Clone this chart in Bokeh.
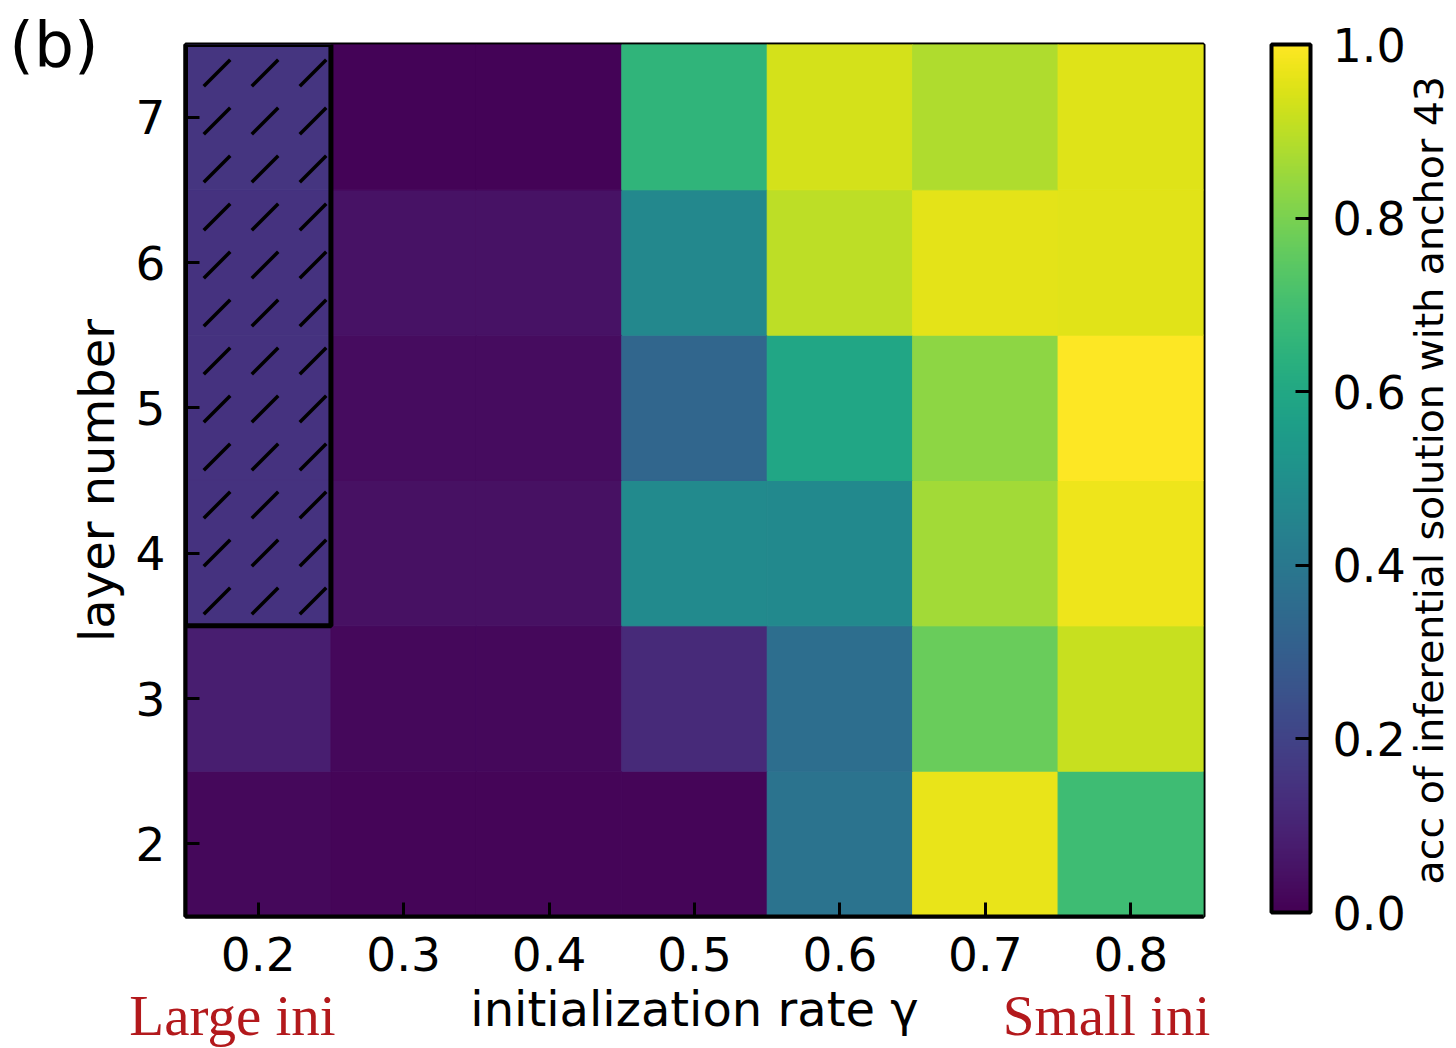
import math
from bokeh.plotting import figure
from bokeh.models import (ColumnDataSource, LinearColorMapper, ColorBar, FixedTicker,
                          PrintfTickFormatter, LinearAxis, Range1d)
from bokeh.palettes import Viridis256
from bokeh.embed import file_html
from bokeh.resources import INLINE

# ---------------- data ----------------
gamma = [0.2, 0.3, 0.4, 0.5, 0.6, 0.7, 0.8]          # initialization rate
layers = [2, 3, 4, 5, 6, 7]                           # layer number
# accuracy per layer (rows) for each gamma (cols 0.2..0.8)
acc_L2 = [0.02, 0.015, 0.015, 0.015, 0.38, 0.965, 0.69]
acc_L3 = [0.085, 0.02, 0.02, 0.12, 0.36, 0.77, 0.915]
acc_L4 = [0.145, 0.045, 0.045, 0.48, 0.475, 0.86, 0.975]
acc_L5 = [0.145, 0.035, 0.035, 0.33, 0.59, 0.83, 1.0]
acc_L6 = [0.145, 0.05, 0.05, 0.465, 0.90, 0.96, 0.955]
acc_L7 = [0.155, 0.01, 0.01, 0.655, 0.935, 0.88, 0.95]
acc_rows = [acc_L2, acc_L3, acc_L4, acc_L5, acc_L6, acc_L7]

cbar_ticks = [0.0, 0.2, 0.4, 0.6, 0.8, 1.0]
highlight_gamma = 0.2
highlight_layers = (4, 7)

x_label = "initialization rate γ"
y_label = "layer number"
cbar_label = "acc of inferential solution with anchor 43"
panel_tag = "(b)"
left_note = "Large ini"
right_note = "Small ini"

# ---------------- layout constants (pixels) ----------------
FW, FH = 1018, 872
FONT = "DejaVu Sans"
NOTE_FONT = "Liberation Serif"
NOTE_COLOR = "#b3191c"
left_note_px, right_note_px = 47, 921      # note centres, from frame left
cbar_label_px = 32                         # start of colour-bar label, from frame bottom

# ---------------- build ----------------
xs, ys, vals = [], [], []
for li, row in zip(layers, acc_rows):
    for g, v in zip(gamma, row):
        xs.append(g)
        ys.append(li)
        vals.append(v)
src = ColumnDataSource(dict(x=xs, y=ys, v=vals))

dx = round(gamma[1] - gamma[0], 6)
x_lo, x_hi = gamma[0] - dx / 2, gamma[-1] + dx / 2
y_lo, y_hi = layers[0] - 0.5, layers[-1] + 0.5

mapper = LinearColorMapper(palette=Viridis256, low=0.0, high=1.0)

p = figure(frame_width=FW, frame_height=FH,
           x_range=(x_lo, x_hi), y_range=(y_lo, y_hi),
           min_border_left=185, min_border_right=253,
           min_border_top=44, min_border_bottom=132,
           toolbar_location=None, output_backend="svg")
p.background_fill_color = "white"
p.border_fill_color = "white"
p.grid.visible = False
p.outline_line_color = "black"
p.outline_line_width = 4

p.extra_x_ranges = {"notes": Range1d(0, FW)}
p.extra_y_ranges = {"aux": Range1d(0, FH)}

p.rect(x="x", y="y", width=dx, height=1.0, source=src,
       fill_color={"field": "v", "transform": mapper},
       line_color={"field": "v", "transform": mapper}, line_width=1)

# hatched highlight region
p.quad(left=[highlight_gamma - dx / 2], right=[highlight_gamma + dx / 2],
       bottom=[highlight_layers[0] - 0.5], top=[highlight_layers[1] + 0.5],
       fill_alpha=0, hatch_pattern=",", hatch_color="black", hatch_weight=3.5,
       hatch_scale=48, line_color="black", line_width=5)

for ax in (p.xaxis[0], p.yaxis[0]):
    ax.major_tick_in = 14
    ax.major_tick_out = 0
    ax.minor_tick_line_color = None
    ax.major_tick_line_width = 3
    ax.major_tick_line_color = "black"
    ax.axis_line_width = 4
    ax.axis_line_color = "black"
    ax.major_label_text_font = FONT
    ax.major_label_text_font_size = "47px"
    ax.major_label_text_color = "black"
    ax.axis_label_text_font = FONT
    ax.axis_label_text_font_size = "48px"
    ax.axis_label_text_font_style = "normal"
    ax.axis_label_text_color = "black"

p.xaxis[0].ticker = FixedTicker(ticks=gamma)
p.yaxis[0].ticker = FixedTicker(ticks=layers)
p.xaxis[0].axis_label = x_label
p.yaxis[0].axis_label = y_label
p.xaxis[0].major_label_standoff = 20
p.yaxis[0].major_label_standoff = 20
p.xaxis[0].axis_label_standoff = 7
p.yaxis[0].axis_label_standoff = 8


def bare_axis(cls_kw, **kw):
    ax = LinearAxis(**cls_kw)
    ax.axis_line_color = None
    ax.major_tick_line_color = None
    ax.minor_tick_line_color = None
    ax.major_tick_in = 0
    ax.major_tick_out = 0
    for k, v in kw.items():
        setattr(ax, k, v)
    return ax


# red notes under the x axis, on the same line as the x-axis label
notes_ax = bare_axis(dict(x_range_name="notes"),
                     ticker=FixedTicker(ticks=[left_note_px, right_note_px]),
                     major_label_overrides={left_note_px: left_note, right_note_px: right_note},
                     major_label_text_font=NOTE_FONT, major_label_text_font_size="57px",
                     major_label_text_color=NOTE_COLOR, major_label_standoff=-56)
p.add_layout(notes_ax, "below")

# panel tag "(b)" at the top left
tag_ax = bare_axis(dict(y_range_name="aux"),
                   ticker=FixedTicker(ticks=[FH]),
                   major_label_overrides={FH: panel_tag},
                   major_label_text_font=FONT, major_label_text_font_size="63px",
                   major_label_text_color="black", major_label_standoff=-33)
p.add_layout(tag_ax, "left")

# spacer between the frame and the colour bar
spacer_ax = bare_axis(dict(y_range_name="aux"),
                      ticker=FixedTicker(ticks=[FH / 2]),
                      major_label_overrides={FH / 2: ""},
                      major_label_text_font_size="1px", major_label_standoff=0)
spacer_ax.major_tick_out = 68
p.add_layout(spacer_ax, "right")

cb = ColorBar(color_mapper=mapper, ticker=FixedTicker(ticks=cbar_ticks),
              formatter=PrintfTickFormatter(format="%.1f"),
              width=39, height=868, padding=0, margin=0,
              bar_line_color="black", bar_line_width=4,
              major_tick_in=15, major_tick_out=0,
              major_tick_line_color="black", major_tick_line_width=3,
              minor_tick_line_color=None,
              major_label_text_font=FONT, major_label_text_font_size="46px",
              major_label_text_color="black", label_standoff=22,
              background_fill_alpha=0, border_line_color=None)
p.add_layout(cb, "right")

# colour-bar label, reading bottom to top
cl_ax = bare_axis(dict(y_range_name="aux"), ticker=FixedTicker(ticks=[cbar_label_px]),
                  major_label_overrides={cbar_label_px: cbar_label},
                  major_label_orientation=math.pi / 2,
                  major_label_text_font=FONT, major_label_text_font_size="39.5px",
                  major_label_text_color="black", major_label_standoff=20)
p.add_layout(cl_ax, "right")

open("out.html", "w").write(file_html(p, INLINE))
